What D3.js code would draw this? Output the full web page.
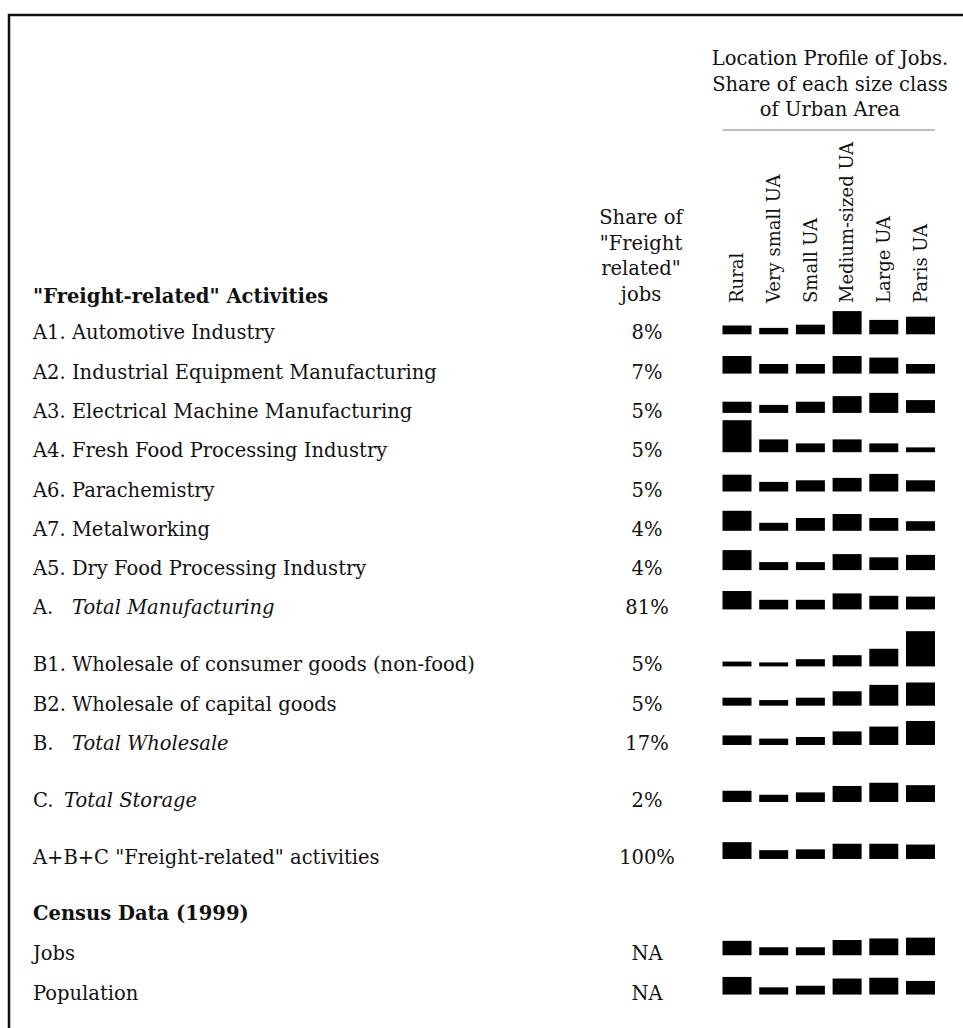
<!DOCTYPE html>
<html>
<head>
<meta charset="utf-8">
<script src="https://cdn.jsdelivr.net/npm/d3@7"></script>
<style>
  body { margin: 0; background: #fff; }
  text { font-family: "DejaVu Serif", serif; fill: #111; }
</style>
</head>
<body>
<svg width="963" height="1028"></svg>
<script>

// size classes of urban area (columns)
var classes = ["Rural", "Very small UA", "Small UA", "Medium-sized UA", "Large UA", "Paris UA"];

// row labels: [plain part, italic part]
var labels = [
    ["A1. Automotive Industry", ""],
    ["A2. Industrial Equipment Manufacturing", ""],
    ["A3. Electrical Machine Manufacturing", ""],
    ["A4. Fresh Food Processing Industry", ""],
    ["A6. Parachemistry", ""],
    ["A7. Metalworking", ""],
    ["A5. Dry Food Processing Industry", ""],
    ["A.", "Total Manufacturing"],
    ["B1. Wholesale of consumer goods (non-food)", ""],
    ["B2. Wholesale of capital goods", ""],
    ["B.", "Total Wholesale"],
    ["C.", "Total Storage"],
    ["A+B+C \"Freight-related\" activities", ""],
    ["Jobs", ""],
    ["Population", ""]
];

// which block each row belongs to (a gap separates blocks)
var groups = ["A", "A", "A", "A", "A", "A", "A", "A", "B", "B", "B", "C", "ABC", "census", "census"];

// share of "freight related" jobs
var shares = ["8%", "7%", "5%", "5%", "5%", "4%", "4%", "81%", "5%", "5%", "17%", "2%", "100%", "NA", "NA"];

// location profile, % of each row in each size class
var profiles = [
    [11, 8, 12, 29, 18, 22],
    [22, 12, 12, 22, 20, 12],
    [14, 10, 14, 21, 25, 16],
    [40, 16, 11, 16, 11, 6],
    [21, 12, 14, 17, 22, 14],
    [25, 10, 16, 21, 16, 12],
    [25, 10, 10, 20, 16, 19],
    [23, 12, 12, 20, 17, 16],
    [6, 5, 9, 14, 22, 44],
    [10, 7, 10, 18, 26, 29],
    [12, 8, 10, 17, 23, 30],
    [14, 9, 12, 20, 24, 21],
    [21, 11, 12, 19, 19, 18],
    [18, 10, 10, 19, 21, 22],
    [22, 9, 11, 20, 21, 17]
];

var svg = d3.select("svg");

// frame
svg.append("rect")
    .attr("x", 9).attr("y", 15)
    .attr("width", 1000).attr("height", 1100)
    .attr("fill", "none")
    .attr("stroke", "#111")
    .attr("stroke-width", 2.5);

// slot of each row, with a 0.45 row gap between blocks and an extra slot for the census title
var slots = [], s = 0, censusSlot;
groups.forEach(function(gr, i) {
    if (i > 0 && gr != groups[i - 1]) s += 1.45;
    else if (i > 0) s += 1;
    if (gr == "census" && censusSlot === undefined) { censusSlot = s; s += 1; }
    slots.push(s);
});

var y = d3.scaleLinear().domain([0, 1]).range([334.3, 373.6]);

var x = d3.scaleBand()
    .domain(classes)
    .range([722.5, 935])
    .paddingInner(0.21);

var h = d3.scaleLinear().domain([0, 50]).range([0, 40]);

var fs = 19.5;

// headers
var head = svg.append("g").style("font-size", fs + "px").attr("text-anchor", "middle");
["Location Profile of Jobs.", "Share of each size class", "of Urban Area"].forEach(function(t, i) {
    head.append("text").attr("x", 830).attr("y", 65 + i * 25.5).text(t);
});
svg.append("line")
    .attr("x1", x.range()[0]).attr("x2", x.range()[1])
    .attr("y1", 130).attr("y2", 130)
    .attr("stroke", "#aaa").attr("stroke-width", 1.5);

["Share of", "\"Freight", "related\"", "jobs"].forEach(function(t, i) {
    head.append("text").attr("x", 641).attr("y", 224 + i * 25.5).text(t);
});

svg.append("text")
    .attr("x", 33).attr("y", 303)
    .style("font-size", fs + "px")
    .style("font-weight", "bold")
    .text("\"Freight-related\" Activities");

svg.append("text")
    .attr("x", 33).attr("y", y(censusSlot) + 4.5)
    .style("font-size", fs + "px")
    .style("font-weight", "bold")
    .text("Census Data (1999)");

// column labels
svg.append("g").selectAll("text")
    .data(classes)
    .enter().append("text")
    .attr("transform", function(d) { return "translate(" + (x(d) + x.bandwidth() / 2) + ",303) rotate(-90)"; })
    .attr("dy", "0.35em")
    .style("font-size", "18px")
    .text(function(d) { return d; });

// rows
var row = svg.append("g").selectAll(".row")
    .data(labels)
    .enter().append("g")
    .attr("class", "row")
    .attr("transform", function(d, i) { return "translate(0," + y(slots[i]) + ")"; });

var lab = row.append("text")
    .attr("x", 33).attr("y", 5)
    .style("font-size", fs + "px");
lab.append("tspan").text(function(d) { return d[0]; });
lab.append("tspan")
    .attr("x", function(d) { return d[0] == "C." ? 64 : 72; })
    .style("font-style", "italic")
    .text(function(d) { return d[1]; });

row.append("text")
    .attr("x", 647).attr("y", 5)
    .attr("text-anchor", "middle")
    .style("font-size", fs + "px")
    .text(function(d, i) { return shares[i]; });

row.selectAll("rect")
    .data(function(d, i) { return profiles[i]; })
    .enter().append("rect")
    .attr("x", function(d, j) { return x(classes[j]); })
    .attr("y", function(d) { return -h(d); })
    .attr("width", x.bandwidth())
    .attr("height", function(d) { return h(d); })
    .attr("fill", "#000");

</script>
</body>
</html>
